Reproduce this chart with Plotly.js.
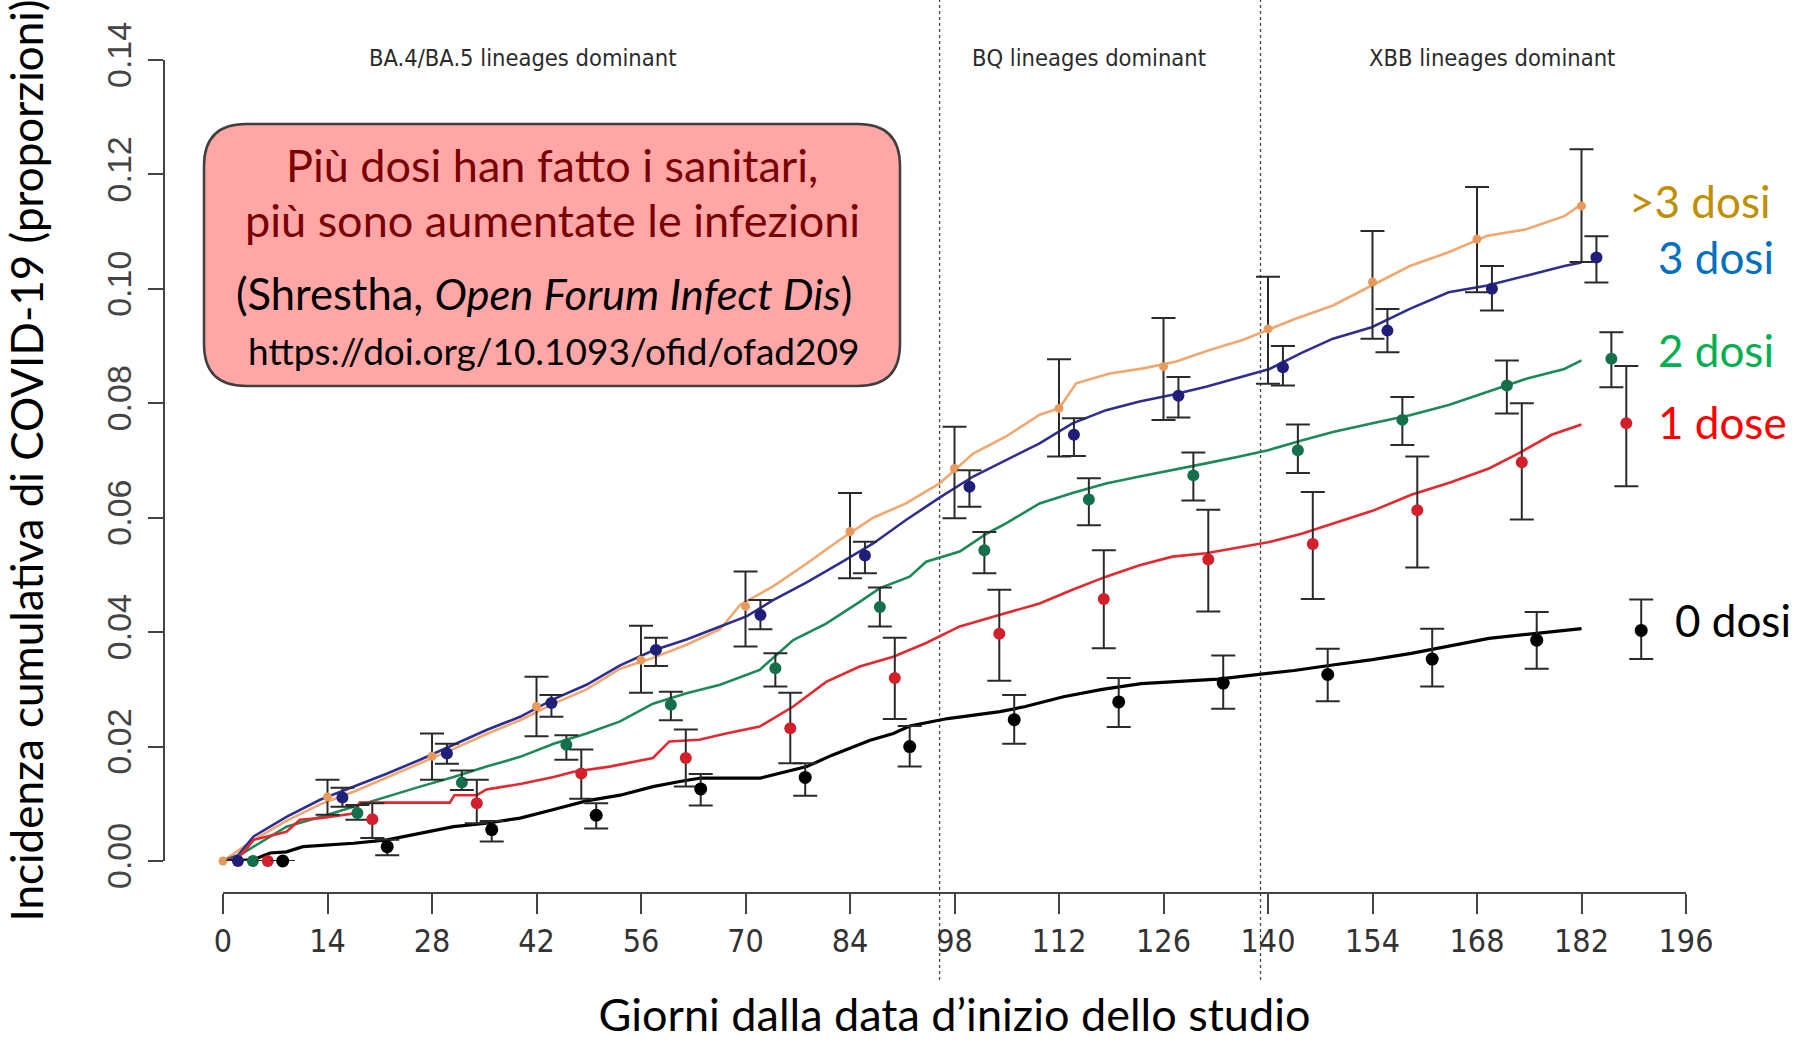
<!DOCTYPE html>
<html>
<head>
<meta charset="utf-8">
<script src="https://cdn.plot.ly/plotly-3.0.1.min.js"></script>
<style>
html,body{margin:0;padding:0;background:#ffffff;}
#chart{width:1810px;height:1041px;}
</style>
</head>
<body>
<div id="chart"></div>
<script>
// ---------- DATA ----------
const xTickVals = [0,14,28,42,56,70,84,98,112,126,140,154,168,182,196];
const yTickVals = [0,0.02,0.04,0.06,0.08,0.10,0.12,0.14];
const yTickText = ["0.00","0.02","0.04","0.06","0.08","0.10","0.12","0.14"];

const groupNames = [">3 dosi","3 dosi","2 dosi","1 dose","0 dosi"];
const periodLabels = ["BA.4/BA.5 lineages dominant","BQ lineages dominant","XBB lineages dominant"];
const periodBreaks = [96,139];

// cumulative incidence curves (days, proportion)
const tanDays = [0,2,4,8.5,13,17.5,22,26.4,30.9,35.3,39.8,44.3,48.7,53.2,57.6,62.1,66.6,69.3,73.7,78.2,82.6,87.1,91.5,96,100.5,104.9,109.4,112,114.3,118.8,123.3,127.7,132.2,136.7,140.2,143.5,148.7,153.9,159,164.2,169.4,174.6,179.7,182];
const tanVals = [0,0.0018,0.0036,0.0070,0.0099,0.0121,0.0146,0.0170,0.0196,0.0222,0.0246,0.0275,0.0300,0.0336,0.0355,0.0378,0.0405,0.0448,0.0480,0.0520,0.0561,0.0600,0.0625,0.0660,0.0712,0.0742,0.0780,0.0791,0.0835,0.0852,0.0861,0.0873,0.0893,0.0911,0.0930,0.0947,0.0971,0.1006,0.1040,0.1064,0.1093,0.1104,0.1127,0.1148];

const blueDays = [0,2,4.1,8.5,13,17.5,22,26.4,30.9,35.3,39.8,44.3,48.7,53.2,57.6,62.1,66.6,70.2,73.7,78.2,82.6,87.1,91.5,96,100.5,104.9,109.4,113.8,118.3,122.8,127.2,131.7,136.2,140.2,144.5,148.7,153.9,159,164.2,169.4,174.6,179.7,182];
const blueVals = [0,0.0010,0.0043,0.0077,0.0107,0.0130,0.0153,0.0177,0.0203,0.0229,0.0252,0.0283,0.0308,0.0342,0.0368,0.0387,0.0410,0.0428,0.0456,0.0487,0.0520,0.0555,0.0596,0.0635,0.0672,0.0701,0.0730,0.0765,0.0788,0.0803,0.0815,0.0829,0.0846,0.0860,0.0888,0.0913,0.0933,0.0965,0.0994,0.1006,0.1023,0.1040,0.1046];

const greenDays = [0,2,4.1,8.5,13,17.5,22,26.4,30.9,35.3,39.8,44.3,48.7,53.2,57.6,62.1,66.6,71.9,76.4,80.8,85.3,88,92,94.2,98.7,102.3,104.9,109.4,113.8,118.3,122.8,127.2,131.7,136.2,140,144.5,148.7,154,159,164.2,169.4,174.6,179.7,182];
const greenVals = [0,0.0008,0.0025,0.0060,0.0077,0.0095,0.0112,0.0130,0.0147,0.0165,0.0182,0.0205,0.0223,0.0244,0.0275,0.0293,0.0308,0.0334,0.0386,0.0415,0.0453,0.0477,0.0497,0.0523,0.0541,0.0572,0.0590,0.0625,0.0643,0.0660,0.0672,0.0683,0.0695,0.0707,0.0718,0.0735,0.0750,0.0765,0.0779,0.0797,0.0820,0.0843,0.0860,0.0875];

const redDays = [0,2,3,4.1,8.5,10.3,13,17.5,18.3,30.4,31,34,35.3,40,44.3,47,51.8,57.6,59.8,63.8,67.4,71.9,76.4,80.8,85.3,89.8,94.2,98.7,104,109.4,113.8,118.3,122.8,127.2,131.7,136.2,140,144.5,148.9,154,159.2,164.5,169.6,173.5,178,182];
const redVals = [0,0.0005,0.0019,0.0037,0.0051,0.0072,0.0075,0.0083,0.0102,0.0102,0.0115,0.0115,0.0125,0.0135,0.0147,0.0156,0.0165,0.0180,0.0209,0.0212,0.0223,0.0235,0.0270,0.0313,0.0340,0.0357,0.0381,0.0410,0.0430,0.0450,0.0474,0.0497,0.0517,0.0532,0.0538,0.0549,0.0557,0.0572,0.0590,0.0612,0.0640,0.0662,0.0686,0.0712,0.0745,0.0763];

const blackDays = [0,4,6.3,8.5,10.7,17.5,22,26.4,30.9,35.3,39.8,44.3,48.7,53.2,57.6,61.2,64,72,78.2,81.6,86.7,89.8,92,97.1,104.1,107.5,112.6,117.8,123,133.3,138.5,143.5,148.9,154,159.2,164.5,169.6,176,182];
const blackVals = [0,0.0002,0.0014,0.0016,0.0025,0.0031,0.0037,0.0048,0.0060,0.0066,0.0075,0.0090,0.0105,0.0115,0.0130,0.0139,0.0145,0.0145,0.0165,0.0185,0.0211,0.0223,0.0236,0.0249,0.0261,0.0270,0.0287,0.0300,0.0310,0.0318,0.0326,0.0333,0.0343,0.0352,0.0363,0.0376,0.0389,0.0398,0.0406];

// point estimates with 95% CI (lower / upper)
const tanPtDays = [0,14,28,42,56,70,84,98,112,126,140,154,168,182];
const tanPtVals = [0,0.0112,0.0183,0.0270,0.0351,0.0445,0.0576,0.0686,0.0791,0.0864,0.0930,0.1012,0.1087,0.1145];
const tanLo = [null,0.0081,0.0142,0.0218,0.0294,0.0375,0.0494,0.0599,0.0707,0.0771,0.0834,0.0913,0.0994,0.1047];
const tanHi = [null,0.0142,0.0223,0.0322,0.0411,0.0506,0.0643,0.0759,0.0877,0.0949,0.1021,0.1101,0.1178,0.1244];

const bluePtDays = [2,16,30,44,58,72,86,100,114,128,142,156,170,184];
const bluePtVals = [0,0.0111,0.0188,0.0276,0.0369,0.0430,0.0534,0.0654,0.0745,0.0813,0.0863,0.0927,0.1000,0.1055];
const blueLo = [null,0.0095,0.0170,0.0252,0.0341,0.0405,0.0503,0.0619,0.0708,0.0775,0.0831,0.0889,0.0962,0.1011];
const blueHi = [null,0.0128,0.0205,0.0290,0.0390,0.0456,0.0558,0.0683,0.0774,0.0846,0.0900,0.0965,0.1040,0.1092];

const greenPtDays = [4,18,32,46,60,74,88,102,116,130,144,158,172,186];
const greenPtVals = [0,0.0084,0.0137,0.0203,0.0273,0.0337,0.0444,0.0543,0.0632,0.0674,0.0718,0.0771,0.0831,0.0878];
const greenLo = [null,0.0072,0.0124,0.0177,0.0246,0.0305,0.0410,0.0503,0.0587,0.0630,0.0678,0.0727,0.0782,0.0828];
const greenHi = [null,0.0098,0.0158,0.0220,0.0296,0.0363,0.0478,0.0575,0.0669,0.0714,0.0763,0.0811,0.0875,0.0924];

const redPtDays = [6,20,34,48,62,76,90,104,118,132,146,160,174,188];
const redPtVals = [0,0.0073,0.0101,0.0153,0.0180,0.0232,0.0320,0.0397,0.0458,0.0527,0.0554,0.0613,0.0697,0.0765];
const redLo = [null,0.0040,0.0066,0.0109,0.0130,0.0171,0.0248,0.0315,0.0372,0.0436,0.0458,0.0513,0.0597,0.0655];
const redHi = [null,0.0101,0.0142,0.0195,0.0230,0.0294,0.0390,0.0474,0.0543,0.0614,0.0645,0.0707,0.0800,0.0865];

const blackPtDays = [8,22,36,50,64,78,92,106,120,134,148,162,176,190];
const blackPtVals = [0,0.0025,0.0055,0.0080,0.0126,0.0146,0.0200,0.0247,0.0278,0.0311,0.0326,0.0353,0.0386,0.0403];
const blackLo = [null,0.0010,0.0034,0.0057,0.0097,0.0114,0.0165,0.0205,0.0234,0.0266,0.0279,0.0305,0.0336,0.0353];
const blackHi = [null,0.0037,0.0070,0.0101,0.0152,0.0171,0.0236,0.0290,0.0320,0.0359,0.0371,0.0406,0.0435,0.0457];

// ---------- LAYOUT HELPERS ----------
const W = 1810, H = 1041;
const px = v => v / W;          // pixel x -> paper
const py = v => 1 - v / H;      // pixel y -> paper

const narrow = "Liberation Sans Narrow, Arial Narrow, DejaVu Sans Condensed, Liberation Sans, sans-serif";
const arial = "Liberation Sans, Arial, sans-serif";
const calib = "Lato, Open Sans, sans-serif";

function lineTrace(x, y, color, width) {
  return {type:'scatter', mode:'lines', x:x, y:y, line:{color:color, width:width, shape:'linear'},
          hoverinfo:'skip', showlegend:false};
}
function ptTrace(x, y, lo, hi, color, size) {
  return {type:'scatter', mode:'markers', x:x, y:y,
          marker:{color:color, size:size, symbol:'circle', line:{width:0}},
          error_y:{type:'data', symmetric:false,
                   array: hi.map((h,i)=> h===null ? null : h - y[i]),
                   arrayminus: lo.map((l,i)=> l===null ? null : y[i] - l),
                   color:'#2a2a2a', thickness:2, width:12},
          cliponaxis:false, hoverinfo:'x+y', showlegend:false};
}

const cTan = '#F3A66E', cBlue = '#2E2E92', cGreen = '#1B8A55', cRed = '#E5282F', cBlack = '#000000';

const data = [
  lineTrace(tanDays, tanVals, cTan, 2.6),
  lineTrace(blueDays, blueVals, cBlue, 2.6),
  lineTrace(greenDays, greenVals, cGreen, 2.6),
  lineTrace(redDays, redVals, cRed, 2.6),
  lineTrace(blackDays, blackVals, cBlack, 3.2),
  ptTrace(tanPtDays, tanPtVals, tanLo, tanHi, '#E89A5C', 9),
  ptTrace(bluePtDays, bluePtVals, blueLo, blueHi, '#1F1F7A', 12),
  ptTrace(greenPtDays, greenPtVals, greenLo, greenHi, '#13704A', 12),
  ptTrace(redPtDays, redPtVals, redLo, redHi, '#D21F2A', 12),
  ptTrace(blackPtDays, blackPtVals, blackLo, blackHi, '#000000', 13)
];

// rounded rectangle path in paper coordinates
function roundRect(x0, y0, x1, y1, r) {
  const X = v => px(v).toFixed(5), Y = v => py(v).toFixed(5);
  return 'M' + X(x0 + r) + ',' + Y(y0) +
         ' L' + X(x1 - r) + ',' + Y(y0) +
         ' Q' + X(x1) + ',' + Y(y0) + ' ' + X(x1) + ',' + Y(y0 + r) +
         ' L' + X(x1) + ',' + Y(y1 - r) +
         ' Q' + X(x1) + ',' + Y(y1) + ' ' + X(x1 - r) + ',' + Y(y1) +
         ' L' + X(x0 + r) + ',' + Y(y1) +
         ' Q' + X(x0) + ',' + Y(y1) + ' ' + X(x0) + ',' + Y(y1 - r) +
         ' L' + X(x0) + ',' + Y(y0 + r) +
         ' Q' + X(x0) + ',' + Y(y0) + ' ' + X(x0 + r) + ',' + Y(y0) + ' Z';
}

const shapes = periodBreaks.map(d => ({
  type:'line', xref:'x', yref:'paper', x0:d, x1:d, y0:py(980), y1:1,
  line:{color:'#444444', width:1.3, dash:'dot'}, layer:'below'
}));
shapes.push({
  type:'path', xref:'paper', yref:'paper', path: roundRect(204, 124, 900, 386, 42),
  fillcolor:'#FFA7A7', line:{color:'#3F3F3F', width:2.5}, layer:'above'
});

const periodX = [522, 1089, 1492];
const annotations = periodLabels.map((t,i) => ({
  text:t, xref:'paper', yref:'paper', x:px(periodX[i]), y:py(58), xanchor:'center', yanchor:'middle',
  showarrow:false, font:{family:narrow, size:23.5, color:'#2b2b2b'}
}));

// text box
annotations.push(
  {text:'Più dosi han fatto i sanitari,', xref:'paper', yref:'paper', x:px(552), y:py(165),
   xanchor:'center', yanchor:'middle', showarrow:false, font:{family:calib, size:45, color:'#7A0000'}},
  {text:'più sono aumentate le infezioni', xref:'paper', yref:'paper', x:px(552), y:py(220),
   xanchor:'center', yanchor:'middle', showarrow:false, font:{family:calib, size:45, color:'#7A0000'}},
  {text:'(Shrestha, <i>Open Forum Infect Dis</i>)', xref:'paper', yref:'paper', x:px(544), y:py(293),
   xanchor:'center', yanchor:'middle', showarrow:false, font:{family:calib, size:43.5, color:'#000000'}},
  {text:'https://doi.org/10.1093/ofid/ofad209', xref:'paper', yref:'paper', x:px(553), y:py(350),
   xanchor:'center', yanchor:'middle', showarrow:false, font:{family:calib, size:37, color:'#000000'}}
);

// group labels on the right
const labelX = [1700, 1716, 1716, 1722, 1733];
const labelY = [201, 257, 350, 422, 620];
const labelColors = ['#BF8F00', '#0070C0', '#00B050', '#FF0000', '#000000'];
groupNames.forEach((t,i) => annotations.push({
  text:t, xref:'paper', yref:'paper', x:px(labelX[i]), y:py(labelY[i]), xanchor:'center', yanchor:'middle',
  showarrow:false, font:{family:calib, size:44, color:labelColors[i]}
}));

const layout = {
  width:W, height:H,
  margin:{l:0, r:0, t:0, b:0, pad:0},
  paper_bgcolor:'#ffffff', plot_bgcolor:'rgba(0,0,0,0)',
  showlegend:false,
  xaxis:{
    domain:[px(223), px(1686)], range:[0,196], anchor:'free', position:py(893),
    showgrid:false, zeroline:false, showline:true, linecolor:'#444444', linewidth:2,
    ticks:'outside', ticklen:20, tickwidth:2, tickcolor:'#444444',
    tickmode:'array', tickvals:xTickVals, ticktext:xTickVals.map(String),
    tickfont:{family:narrow, size:32, color:'#333333'},
    title:{text:'Giorni dalla data d\u2019inizio dello studio', font:{family:calib, size:45, color:'#000000'}, standoff:43},
    automargin:false
  },
  yaxis:{
    domain:[py(861), py(60)], range:[0,0.14], anchor:'free', position:px(164),
    showgrid:false, zeroline:false, showline:true, linecolor:'#444444', linewidth:2,
    ticks:'outside', ticklen:15, tickwidth:2, tickcolor:'#444444',
    tickmode:'array', tickvals:yTickVals, ticktext:yTickText, tickangle:-90,
    tickfont:{family:arial, size:34, color:'#444444'}, ticklabelstandoff:3,
    title:{text:'Incidenza cumulativa di COVID-19 (proporzioni)', font:{family:calib, size:44, color:'#000000'}, standoff:42},
    automargin:false
  },
  shapes:shapes,
  annotations:annotations
};

Plotly.newPlot('chart', data, layout, {displayModeBar:false, staticPlot:true});
</script>
</body>
</html>
